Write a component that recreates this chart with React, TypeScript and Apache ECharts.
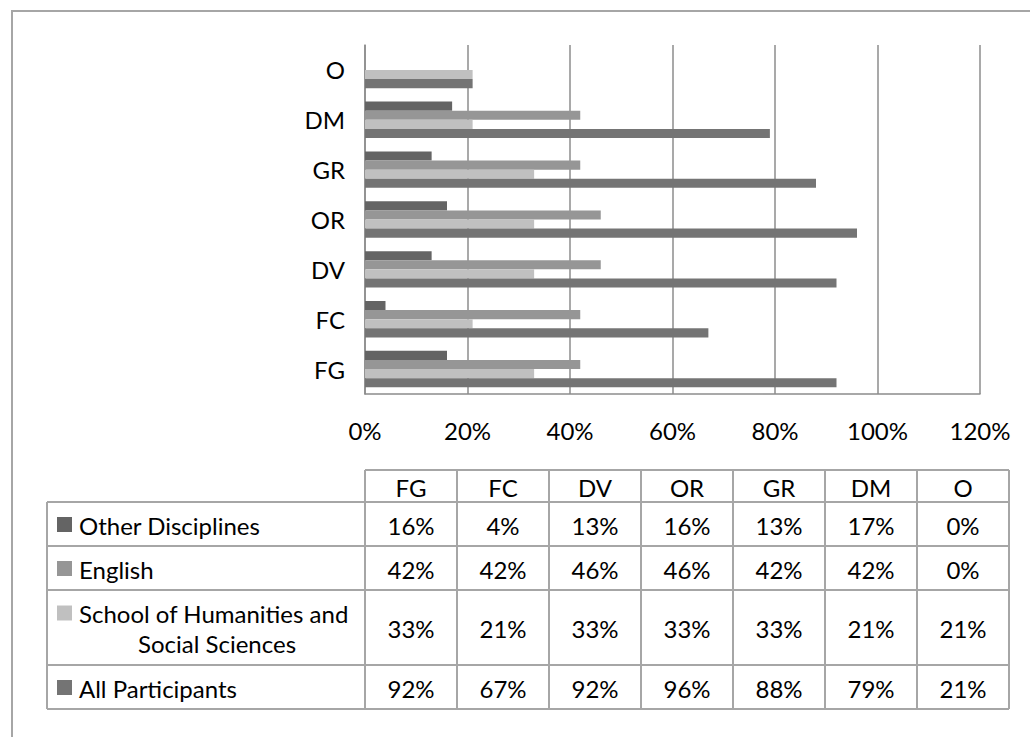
import React, { useEffect, useRef } from "react";
import * as echarts from "echarts";

const categories = ["FG", "FC", "DV", "OR", "GR", "DM", "O"];
const seriesNames = [
  "Other Disciplines",
  "English",
  "School of Humanities and Social Sciences",
  "All Participants",
];
const otherDisciplines = [16, 4, 13, 16, 13, 17, 0];
const english = [42, 42, 46, 46, 42, 42, 0];
const schoolHumanities = [33, 21, 33, 33, 33, 21, 21];
const allParticipants = [92, 67, 92, 96, 88, 79, 21];
const seriesValues = [otherDisciplines, english, schoolHumanities, allParticipants];
const seriesColors = ["#646464", "#969696", "#c0c0c0", "#747474"];
const tableLabelLines = [
  ["Other Disciplines"],
  ["English"],
  ["School of Humanities and", "Social Sciences"],
  ["All Participants"],
];

const FONT = "Lato, 'Open Sans', sans-serif";
const FS = 24;
const LINE = "#a6a6a6";

export default function App() {
  const ref = useRef<HTMLDivElement>(null);
  useEffect(() => {
    document.body.style.margin = "0";
    const chart = echarts.init(ref.current!, null, { renderer: "svg" });

    const labelLeft = 47;
    const colLeft = 365;
    const colW = 92;
    const nCols = categories.length;
    const right = colLeft + colW * nCols;
    const headerTop = 470;
    const rowEdges = [502, 546, 590, 665, 709];
    const g: any[] = [];
    g.push({
      type: "rect",
      shape: { x: 12, y: 11, width: 1100, height: 800 },
      style: { fill: "none", stroke: LINE, lineWidth: 2 },
      silent: true,
    });
    g.push({ type: "line", shape: { x1: colLeft, y1: headerTop, x2: right, y2: headerTop }, style: { stroke: LINE, lineWidth: 2 } });
    rowEdges.forEach((y) => {
      g.push({ type: "line", shape: { x1: labelLeft, y1: y, x2: right, y2: y }, style: { stroke: LINE, lineWidth: 2 } });
    });
    g.push({ type: "line", shape: { x1: labelLeft, y1: rowEdges[0], x2: labelLeft, y2: rowEdges[rowEdges.length - 1] }, style: { stroke: LINE, lineWidth: 2 } });
    for (let i = 0; i <= nCols; i++) {
      const x = colLeft + i * colW;
      g.push({ type: "line", shape: { x1: x, y1: headerTop, x2: x, y2: rowEdges[rowEdges.length - 1] }, style: { stroke: LINE, lineWidth: 2 } });
    }
    categories.forEach((c, i) => {
      g.push({
        type: "text",
        x: colLeft + colW * i + colW / 2,
        y: (headerTop + rowEdges[0]) / 2 + 1,
        style: { text: c, font: `${FS}px ${FONT}`, fill: "#000", align: "center", verticalAlign: "middle" },
      });
    });
    seriesValues.forEach((vals, r) => {
      const top = rowEdges[r];
      const bot = rowEdges[r + 1];
      const cy = (top + bot) / 2 + 1;
      vals.forEach((v, i) => {
        g.push({
          type: "text",
          x: colLeft + colW * i + colW / 2,
          y: cy,
          style: { text: `${v}%`, font: `${FS}px ${FONT}`, fill: "#000", align: "center", verticalAlign: "middle" },
        });
      });
      const lines = tableLabelLines[r];
      const lineH = 30;
      const firstY = cy - ((lines.length - 1) * lineH) / 2;
      g.push({
        type: "rect",
        shape: { x: 57, y: firstY - 8, width: 15, height: 15 },
        style: { fill: seriesColors[r] },
      });
      lines.forEach((t, k) => {
        g.push({
          type: "text",
          x: k === 0 ? 79 : 217,
          y: firstY + k * lineH,
          style: {
            text: t,
            font: `${FS}px ${FONT}`,
            fill: "#000",
            align: k === 0 ? "left" : "center",
            verticalAlign: "middle",
          },
        });
      });
    });

    chart.setOption({
      animation: false,
      backgroundColor: "#ffffff",
      grid: { left: 365, right: 50, top: 45, bottom: 343, containLabel: false },
      xAxis: {
        type: "value",
        min: 0,
        max: 120,
        interval: 20,
        axisLine: { show: true, lineStyle: { color: "#8c8c8c", width: 1.5 } },
        axisTick: { show: false },
        axisLabel: { formatter: "{value}%", fontSize: FS, fontFamily: FONT, color: "#000", margin: 24 },
        splitLine: { show: true, lineStyle: { color: "#8c8c8c", width: 1.5 } },
      },
      yAxis: {
        type: "category",
        data: categories,
        axisLine: { show: true, lineStyle: { color: "#8c8c8c", width: 1.5 } },
        axisTick: { show: false },
        axisLabel: { fontSize: FS, fontFamily: FONT, color: "#000", margin: 20, padding: [6, 0, 0, 0] },
        splitLine: { show: false },
      },
      series: seriesNames.map((name, i) => ({
        name,
        type: "bar",
        data: seriesValues[i],
        barGap: "0%",
        barCategoryGap: "27%",
        itemStyle: { color: seriesColors[i] },
      })),
      graphic: g,
    });
    return () => chart.dispose();
  }, []);
  return <div ref={ref} style={{ width: 1030, height: 737 }} />;
}
